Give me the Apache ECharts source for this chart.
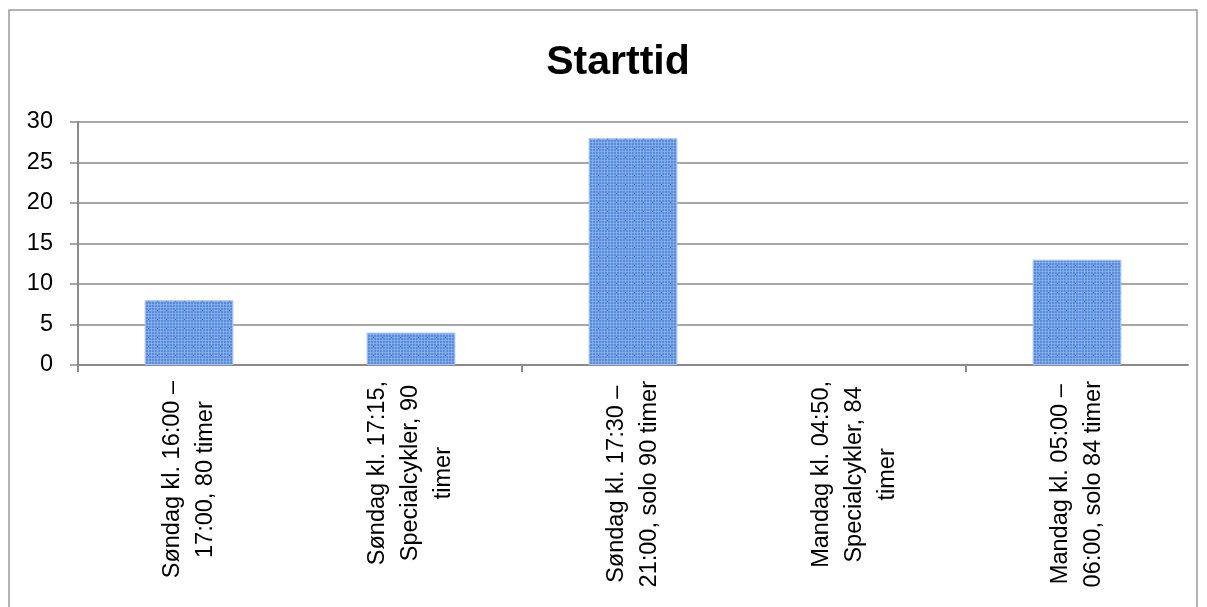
<!DOCTYPE html>
<html>
<head>
<meta charset="utf-8">
<script src="https://cdn.jsdelivr.net/npm/echarts@6/dist/echarts.min.js"></script>
<style>
html,body{margin:0;padding:0;background:#fff;}
#chart{width:1207px;height:607px;}
</style>
</head>
<body>
<div id="chart"></div>
<script>
const titleText = 'Starttid';
const categories = [
  'Søndag kl. 16:00 –\n17:00, 80 timer',
  'Søndag kl. 17:15,\nSpecialcykler, 90\ntimer',
  'Søndag kl. 17:30 –\n21:00, solo 90 timer',
  'Mandag kl. 04:50,\nSpecialcykler, 84\ntimer',
  'Mandag kl. 05:00 –\n06:00, solo 84 timer'
];
const values = [8, 4, 28, 0, 13];
const yMin = 0, yMax = 30, yStep = 5;

const FONT = "'Liberation Sans', Arial, sans-serif";

// pattern fill resembling the Excel plaid texture
function makePattern() {
  const c = document.createElement('canvas');
  c.width = 9; c.height = 9;
  const g = c.getContext('2d');
  g.fillStyle = '#5a8cdb';
  g.fillRect(0, 0, 9, 9);
  g.fillStyle = 'rgba(160,195,245,0.5)';
  for (let i = 1; i < 9; i += 3) {
    g.fillRect(i, 0, 1, 9);
    g.fillRect(0, i, 9, 1);
  }
  g.fillStyle = '#3d6cc0';
  g.fillRect(4, 4, 1, 1);
  return c;
}
const pattern = { image: makePattern(), repeat: 'repeat' };

const chart = echarts.init(document.getElementById('chart'), null, { renderer: 'canvas' });
const gray = '#8a8a8a';

chart.setOption({
  animation: false,
  backgroundColor: '#ffffff',
  title: {
    text: titleText,
    left: 613,
    top: 37,
    textAlign: 'center',
    textStyle: { fontFamily: FONT, fontSize: 41, fontWeight: 'bold', color: '#000' }
  },
  graphic: [{
    type: 'rect',
    shape: { x: 9, y: 10, width: 1188, height: 700 },
    style: { fill: null, stroke: '#9a9a9a', lineWidth: 1.5 },
    silent: true,
    z: -1
  }],
  grid: { left: 78, right: 19, top: 122, bottom: 242, containLabel: false },
  xAxis: [{
    type: 'category',
    data: categories,
    position: 'bottom',
    axisLine: { show: true, lineStyle: { color: gray, width: 2 } },
    axisTick: { show: false },
    splitLine: { show: false },
    axisLabel: {
      interval: 0,
      rotate: 90,
      margin: 16,
      formatter: function (v) {
        return v.split('\n').map(function (s) { return '{c|' + s + '}'; }).join('\n');
      },
      rich: {
        c: { align: 'center', fontFamily: FONT, fontSize: 23.5, lineHeight: 33, color: '#000' }
      }
    }
  }, {
    type: 'value',
    min: 0,
    max: categories.length,
    position: 'bottom',
    axisLine: { show: false },
    axisLabel: { show: false },
    splitLine: { show: false },
    axisTick: { show: true, customValues: [0, 2, 4], length: 7, inside: false, lineStyle: { color: gray, width: 2 } }
  }],
  yAxis: {
    type: 'value',
    min: yMin,
    max: yMax,
    interval: yStep,
    axisLine: { show: true, lineStyle: { color: gray, width: 2 } },
    axisTick: { show: true, length: 8, lineStyle: { color: gray, width: 1.5 } },
    axisLabel: { margin: 25, fontFamily: FONT, fontSize: 23.5, color: '#000' },
    splitLine: { show: true, lineStyle: { color: gray, width: 1.5 } }
  },
  series: [{
    type: 'bar',
    xAxisIndex: 0,
    barWidth: '40%',
    data: values.map(function (v) {
      return v === 0 ? { value: v, itemStyle: { borderWidth: 0 } } : v;
    }),
    itemStyle: { color: pattern, borderColor: '#a9c4ee', borderWidth: 1 }
  }]
});
</script>
</body>
</html>
